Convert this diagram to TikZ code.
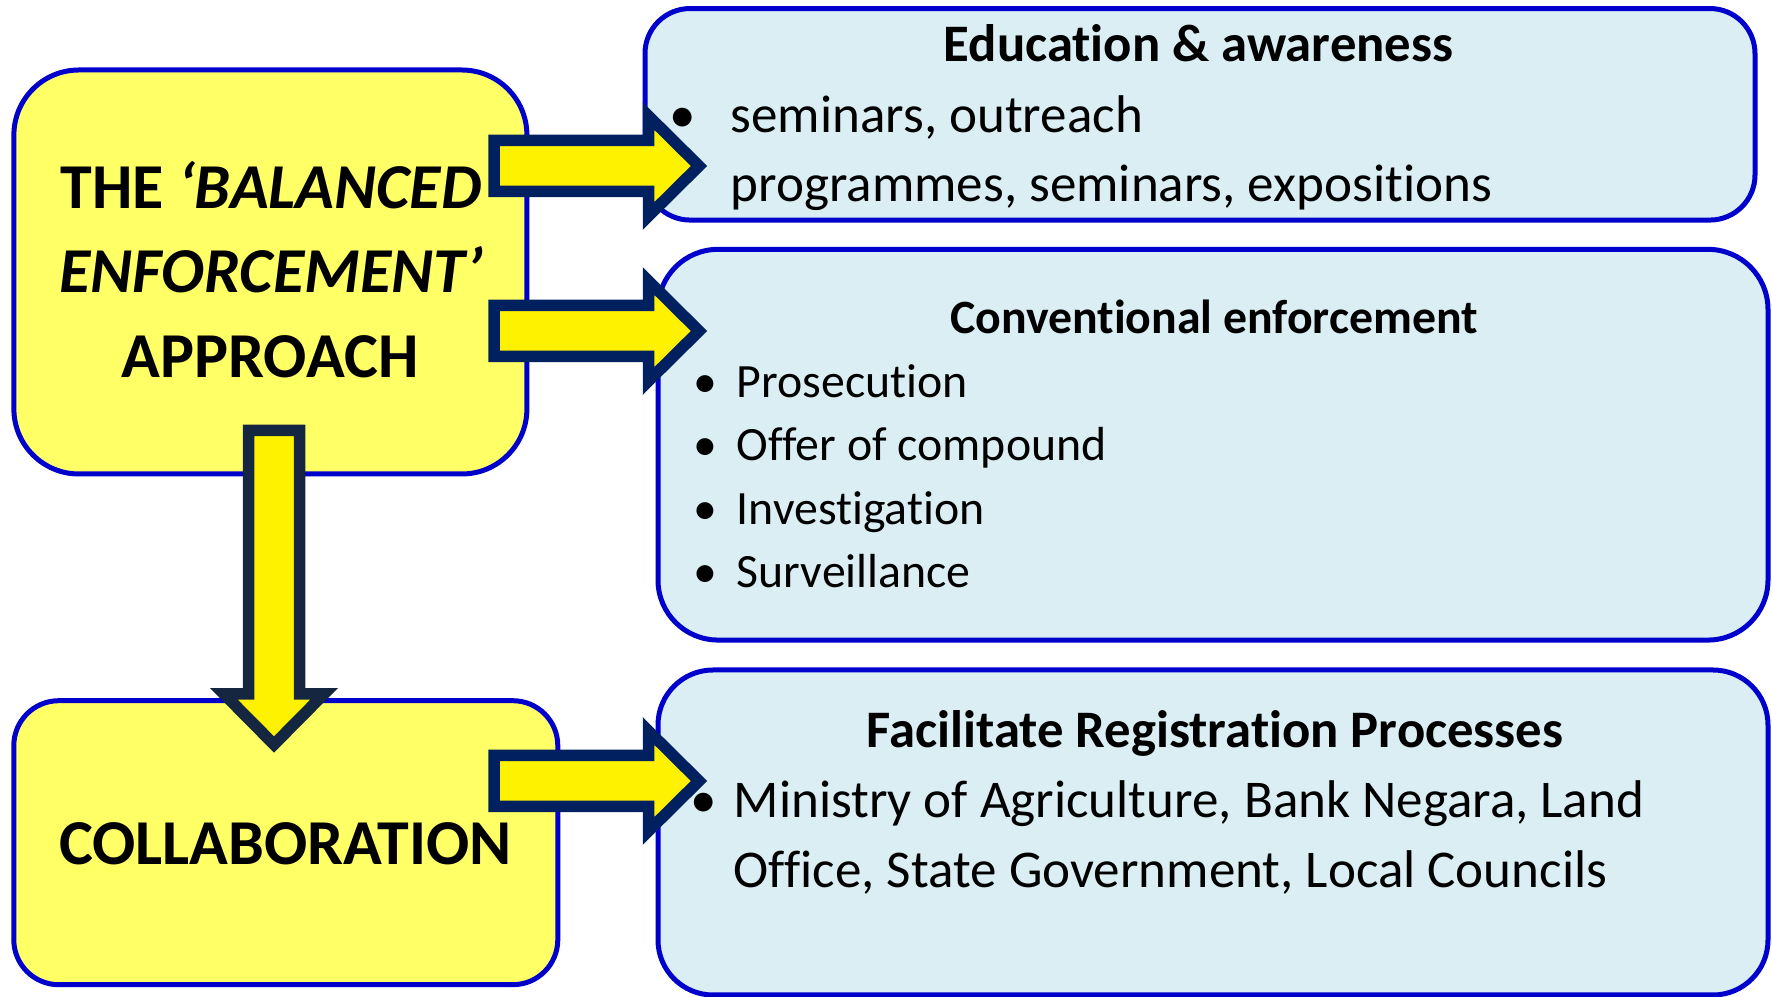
\documentclass[tikz,border=0pt]{standalone}
\usepackage{fontspec}
\setmainfont{Carlito}[Ligatures={TeX,NoCommon}]
\usetikzlibrary{calc}

\definecolor{boxblue}{RGB}{0,0,204}
\definecolor{lightyel}{RGB}{255,255,102}
\definecolor{paleblue}{RGB}{218,238,243}
\definecolor{arrnavy}{RGB}{0,32,96}
\definecolor{arrslate}{RGB}{20,38,64}

\tikzset{
  ybox/.style={draw=boxblue, fill=lightyel, line width=0.5mm, inner sep=0pt},
  bbox/.style={draw=boxblue, fill=paleblue, line width=0.5mm, inner sep=0pt},
  txt/.style={anchor=base, inner sep=0pt},
  item/.style={anchor=base west, inner sep=0pt},
  fat/.style 2 args={draw=#1, fill=yellow, line width=1.15mm,
    to path={($(\tikztotarget)!5.05mm!(\tikztostart)$) coordinate (q)
      ($(\tikztostart)!2.55mm!90:(\tikztotarget)$)
      -- ($(q)!2.55mm!-90:(\tikztostart)$)
      -- ($(q)!#2!-90:(\tikztostart)$)
      -- (\tikztotarget)
      -- ($(q)!#2!90:(\tikztostart)$)
      -- ($(q)!2.55mm!90:(\tikztostart)$)
      -- ($(\tikztostart)!2.55mm!-90:(\tikztotarget)$)
      -- cycle}},
}

\begin{document}
\begin{tikzpicture}[x=1mm,y=-1mm]
  \useasboundingbox (0,0) rectangle (177.2,99.7);

  % left boxes
  \node[ybox, rounded corners=6.5mm, minimum width=51.3mm, minimum height=40.4mm] (bal) at (27.04,27.2) {};
  \node[ybox, rounded corners=4.5mm, minimum width=54.4mm, minimum height=28.4mm] (col) at (28.58,84.27) {};

  % right boxes
  \node[bbox, rounded corners=4.5mm, minimum width=111mm, minimum height=21.15mm] (edu) at (120.0,11.43) {};
  \node[bbox, rounded corners=6mm, minimum width=111mm, minimum height=39.07mm] (con) at (121.3,44.47) {};
  \node[bbox, rounded corners=5.5mm, minimum width=111mm, minimum height=32.5mm] (fac) at (121.3,83.25) {};

  %approach
  \node[txt, font=\fontsize{18.2}{22}\selectfont\bfseries] (bal1) at (27.1,20.9) {THE \textit{‘BALANCED}};
  \node[txt, font=\fontsize{18.2}{22}\selectfont\bfseries] (bal2) at (27.1,29.3) {\textit{ENFORCEMENT’}};
  \node[txt, font=\fontsize{18.2}{22}\selectfont\bfseries] (bal3) at (27.0,37.8) {APPROACH};
  \node[txt, font=\fontsize{18.2}{22}\selectfont\bfseries] (coltxt) at (28.54,86.46) {COLLABORATION};

  %education
  \node[txt, font=\fontsize{15}{18}\selectfont\bfseries] (eduhd) at (119.85,6.17) {Education \& awareness};
  \node[txt, font=\fontsize{15.1}{18}\selectfont] (edub) at (68.3,13.3) {•};
  \node[item, font=\fontsize{15.1}{18}\selectfont] (edu1) at (73.0,13.3) {seminars, outreach};
  \node[item, font=\fontsize{15.1}{18}\selectfont] (edu2) at (73.0,20.2) {programmes, seminars, expositions};

  %conventional
  \node[txt, font=\fontsize{13.6}{16}\selectfont\bfseries] (conhd) at (121.4,33.33) {Conventional enforcement};
  \node[txt, font=\fontsize{13.6}{16}\selectfont] (conb1) at (70.5,39.75) {•};
  \node[txt, font=\fontsize{13.6}{16}\selectfont] (conb2) at (70.5,46.1) {•};
  \node[txt, font=\fontsize{13.6}{16}\selectfont] (conb3) at (70.5,52.43) {•};
  \node[txt, font=\fontsize{13.6}{16}\selectfont] (conb4) at (70.5,58.77) {•};
  \node[item, font=\fontsize{13.6}{16}\selectfont] (con1) at (73.6,39.75) {Prosecution};
  \node[item, font=\fontsize{13.6}{16}\selectfont] (con2) at (73.6,46.1) {Offer of compound};
  \node[item, font=\fontsize{13.6}{16}\selectfont] (con3) at (73.6,52.43) {Investigation};
  \node[item, font=\fontsize{13.6}{16}\selectfont] (con4) at (73.6,58.77) {Surveillance};

  %registration
  \node[txt, font=\fontsize{15}{18}\selectfont\bfseries] (fachd) at (121.5,74.75) {Facilitate Registration Processes};
  \node[txt, font=\fontsize{15.1}{18}\selectfont] (facb) at (70.35,81.75) {•};
  \node[item, font=\fontsize{15.1}{18}\selectfont] (fac1) at (73.3,81.75) {Ministry of Agriculture, Bank Negara, Land};
  \node[item, font=\fontsize{15.1}{18}\selectfont] (fac2) at (73.3,88.75) {Office, State Government, Local Councils};

  % block arrows
  \coordinate (t1) at (49.4,16.6);  \coordinate (h1) at (69.9,16.6);
  \coordinate (t2) at (49.4,33.1);  \coordinate (h2) at (69.9,33.1);
  \coordinate (t3) at (49.4,78.1);  \coordinate (h3) at (69.9,78.1);
  \coordinate (t4) at (27.4,43.05); \coordinate (h4) at (27.4,74.45);
  \draw[fat={arrnavy}{5mm}] (t1) to (h1);
  \draw[fat={arrnavy}{5mm}] (t2) to (h2);
  \draw[fat={arrnavy}{5mm}] (t3) to (h3);
  \draw[fat={arrslate}{5mm}] (t4) to (h4);

\end{tikzpicture}
\end{document}
